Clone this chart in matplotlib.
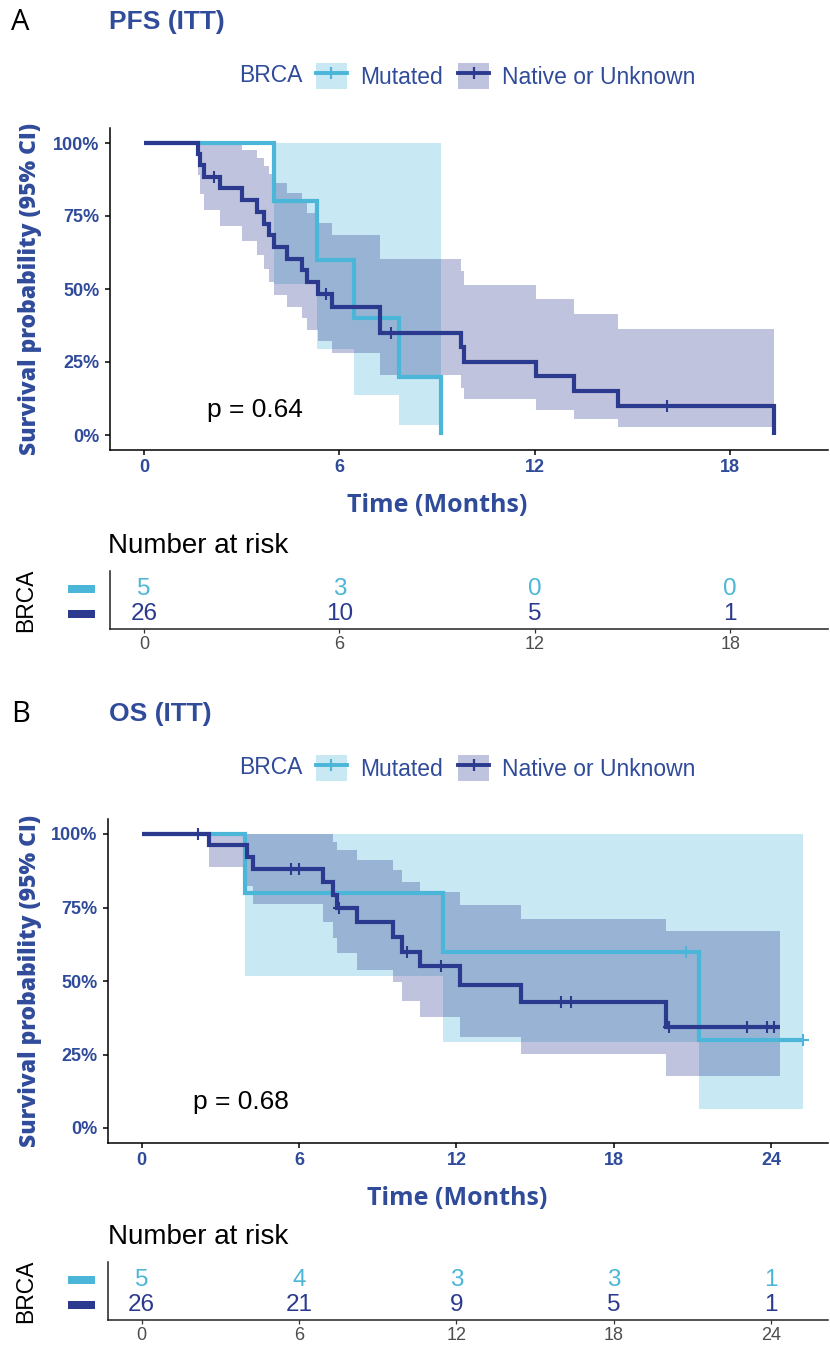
import matplotlib
matplotlib.use("Agg")
import matplotlib.pyplot as plt
from matplotlib.patches import Patch, Rectangle
from matplotlib.lines import Line2D
from matplotlib.transforms import blended_transform_factory

# ---------------- data ----------------
groups = ["Mutated", "Native or Unknown"]
line_colors = ["#4BB6D8", "#2B3A8F"]
text_navy = "#2F4B9A"

y_ticks = [0, 0.25, 0.5, 0.75, 1.0]
y_tick_labels = ["0%", "25%", "50%", "75%", "100%"]

# PFS (ITT)
pfs_mut_time = [0, 3.98, 5.31, 6.44, 7.83, 9.11]
pfs_mut_surv = [1.0, 0.8, 0.6, 0.4, 0.2, 0.0]
pfs_mut_lower = [1.0, 0.516, 0.293, 0.137, 0.035, 0.0]
pfs_mut_upper = [1.0, 1.0, 1.0, 1.0, 1.0, 0.0]
pfs_mut_cens_time = []
pfs_mut_cens_surv = []

pfs_nat_time = [0, 1.65, 1.72, 1.85, 2.34, 3.0, 3.47, 3.67, 3.83, 3.98, 4.39,
                4.85, 5.0, 5.35, 5.77, 7.26, 9.72, 9.83, 12.03, 13.2, 14.55, 19.35]
pfs_nat_surv = [1.0, 0.962, 0.923, 0.885, 0.845, 0.805, 0.765, 0.724, 0.684, 0.644, 0.604,
                0.564, 0.523, 0.483, 0.439, 0.351, 0.302, 0.251, 0.201, 0.151, 0.100, 0.0]
pfs_nat_lower = [1.0, 0.890, 0.826, 0.770, 0.716, 0.664, 0.616, 0.569, 0.524, 0.481, 0.440,
                 0.399, 0.360, 0.322, 0.281, 0.204, 0.162, 0.123, 0.087, 0.055, 0.028, 0.0]
pfs_nat_upper = [1.0, 1.0, 1.0, 1.0, 1.0, 0.975, 0.950, 0.921, 0.893, 0.862, 0.830,
                 0.796, 0.760, 0.725, 0.686, 0.604, 0.563, 0.515, 0.465, 0.415, 0.364, 0.0]
pfs_nat_cens_time = [2.16, 5.6, 7.57, 16.06]
pfs_nat_cens_surv = [0.885, 0.483, 0.351, 0.100]

pfs_risk_time = [0, 6, 12, 18]
pfs_risk_mut = [5, 3, 0, 0]
pfs_risk_nat = [26, 10, 5, 1]
pfs_xticks = [0, 6, 12, 18]
pfs_pval = "p = 0.64"

# OS (ITT)
os_mut_time = [0, 3.95, 11.5, 21.26, 25.2]
os_mut_surv = [1.0, 0.8, 0.6, 0.3, 0.3]
os_mut_lower = [1.0, 0.516, 0.293, 0.065, 0.065]
os_mut_upper = [1.0, 1.0, 1.0, 1.0, 1.0]
os_mut_cens_time = [20.76, 25.2]
os_mut_cens_surv = [0.6, 0.3]

os_nat_time = [0, 2.58, 4.0, 4.26, 6.93, 7.3, 7.45, 8.2, 9.6, 9.92, 10.6, 12.13, 14.47, 20.0, 24.35]
os_nat_surv = [1.0, 0.962, 0.923, 0.880, 0.838, 0.793, 0.750, 0.700, 0.650, 0.600, 0.550,
               0.487, 0.427, 0.343, 0.343]
os_nat_lower = [1.0, 0.889, 0.822, 0.761, 0.700, 0.645, 0.594, 0.537, 0.495, 0.431, 0.376,
                0.310, 0.253, 0.176, 0.176]
os_nat_upper = [1.0, 1.0, 1.0, 1.0, 1.0, 0.972, 0.947, 0.913, 0.876, 0.836, 0.802,
                0.757, 0.712, 0.670, 0.670]
os_nat_cens_time = [2.16, 5.69, 6.0, 7.54, 10.1, 11.4, 16.0, 16.38, 20.1, 23.1, 23.85, 24.1]
os_nat_cens_surv = [1.0, 0.880, 0.880, 0.750, 0.600, 0.550, 0.427, 0.427, 0.343, 0.343, 0.343, 0.343]

os_risk_time = [0, 6, 12, 18, 24]
os_risk_mut = [5, 4, 3, 3, 1]
os_risk_nat = [26, 21, 9, 5, 1]
os_xticks = [0, 6, 12, 18, 24]
os_pval = "p = 0.68"

# ---------------- layout helpers ----------------
W, H = 830, 1349
fig = plt.figure(figsize=(W / 100, H / 100), dpi=100)
fig.patch.set_facecolor("white")

SANS = "Liberation Sans"
LABEL = "Open Sans"


def fx(x):
    return x / W


def fy(y):
    return 1 - y / H


def rect(x0, y0, x1, y1):
    return [fx(x0), fy(y1), (x1 - x0) / W, (y1 - y0) / H]


def panel(letter, title, top, main_box, xlim, xticks, curves, pval, pval_xy,
          xlabel_x, risk_box, risk_time, risk_rows):
    # letter & title
    fig.text(fx(11), fy(top), letter, fontsize=21, family=LABEL, color="black",
             ha="left", va="center")
    fig.text(fx(109), fy(top), title, fontsize=19, family=SANS, weight="bold",
             color=text_navy, ha="left", va="center")

    # legend
    ly = top + 54
    fig.text(fx(239), fy(ly), "BRCA", fontsize=16.5, family=SANS, color=text_navy,
             ha="left", va="center")
    handles = []
    for c in line_colors:
        handles.append((Patch(facecolor=c, alpha=0.3, edgecolor="none"),
                        Line2D([], [], color=c, lw=2.8, marker="+", markersize=9,
                               markeredgewidth=1.6)))
    fig.legend(handles, groups, loc="center left", bbox_to_anchor=(fx(316), fy(ly)),
               frameon=False, ncol=2, numpoints=1, borderpad=0, borderaxespad=0,
               handlelength=1.35, handleheight=1.35, handletextpad=0.57,
               columnspacing=0.67, prop={"family": SANS, "size": 16.5},
               labelcolor=text_navy)

    # main axes
    ax = fig.add_axes(rect(*main_box))
    ax.set_xlim(*xlim)
    ax.set_ylim(-0.05, 1.05)
    for (t, s, lo, hi, ct, cs), c in zip(curves, line_colors):
        ax.fill_between(t, lo, hi, step="post", color=c, alpha=0.3, linewidth=0)
    for (t, s, lo, hi, ct, cs), c in zip(curves, line_colors):
        ax.step(t, s, where="post", color=c, lw=3.0, solid_joinstyle="miter",
                solid_capstyle="butt")
        ax.plot(ct, cs, linestyle="none", marker="+", markersize=8, markeredgewidth=1.5,
                color=c)
    ax.text(pval_xy[0], pval_xy[1], pval, fontsize=19, family=SANS, color="black",
            ha="left", va="center")
    ax.set_xticks(xticks)
    ax.set_yticks(y_ticks)
    ax.set_yticklabels(y_tick_labels)
    for sp in ["top", "right"]:
        ax.spines[sp].set_visible(False)
    for sp in ["left", "bottom"]:
        ax.spines[sp].set_linewidth(1.1)
        ax.spines[sp].set_color("black")
    ax.tick_params(axis="both", length=3.6, width=1.1, color="black",
                   labelcolor=text_navy, labelsize=13)
    ax.tick_params(axis="x", pad=3.0)
    ax.tick_params(axis="y", pad=4.0)
    for lab in ax.get_xticklabels() + ax.get_yticklabels():
        lab.set_fontfamily(SANS)
        lab.set_fontweight("bold")
    x0, y0, x1, y1 = main_box
    ax.set_xlabel("Time (Months)", fontsize=18, family=LABEL, weight="bold",
                  color=text_navy, va="center", ha="center")
    ax.xaxis.set_label_coords((xlabel_x - x0) / (x1 - x0), (y1 - (y1 + 56)) / (y1 - y0))
    ax.set_ylabel("Survival probability (95% CI)", fontsize=16.5, family=LABEL,
                  weight="heavy", color=text_navy, va="center", ha="center")
    ax.yaxis.set_label_coords((30 - x0) / (x1 - x0), 0.5)

    # risk table
    rx0, ry0, rx1, ry1 = risk_box
    fig.text(fx(108), fy(ry0 - 25), "Number at risk", fontsize=20, family=SANS,
             color="black", ha="left", va="center")
    rax = fig.add_axes(rect(*risk_box))
    rax.set_xlim(*xlim)
    rax.set_ylim(0.4, 2.72)
    for counts, row, c in zip(risk_rows, [2, 1], line_colors):
        for t, n in zip(risk_time, counts):
            rax.text(t, row, str(n), fontsize=17.5, family=SANS, color=c,
                     ha="center", va="center")
        tr = blended_transform_factory(fig.transFigure, rax.transData)
        rax.add_patch(Rectangle((fx(68), row - 0.16), fx(95) - fx(68), 0.32,
                                transform=tr, facecolor=c, edgecolor="none",
                                clip_on=False))
    rax.set_xticks(risk_time)
    rax.set_yticks([])
    for sp in ["top", "right"]:
        rax.spines[sp].set_visible(False)
    for sp in ["left", "bottom"]:
        rax.spines[sp].set_linewidth(1.1)
        rax.spines[sp].set_color("#222222")
    rax.tick_params(axis="x", length=3, width=0.9, color="#333333",
                    labelcolor="#4D4D4D", labelsize=13, pad=2)
    for lab in rax.get_xticklabels():
        lab.set_fontfamily(SANS)
    fig.text(fx(26), fy((ry0 + ry1) / 2), "BRCA", fontsize=16.5, family=SANS,
             color="black", rotation=90, ha="center", va="center")
    return ax, rax


pfs_curves = [
    (pfs_mut_time, pfs_mut_surv, pfs_mut_lower, pfs_mut_upper, pfs_mut_cens_time, pfs_mut_cens_surv),
    (pfs_nat_time, pfs_nat_surv, pfs_nat_lower, pfs_nat_upper, pfs_nat_cens_time, pfs_nat_cens_surv),
]
os_curves = [
    (os_mut_time, os_mut_surv, os_mut_lower, os_mut_upper, os_mut_cens_time, os_mut_cens_surv),
    (os_nat_time, os_nat_surv, os_nat_lower, os_nat_upper, os_nat_cens_time, os_nat_cens_surv),
]

panel("A", "PFS (ITT)", 22, (110, 128.4, 828, 449.6), (-1.044, 21.0), pfs_xticks,
      pfs_curves, pfs_pval, (1.93, 0.086), 437, (110, 571, 828, 629),
      pfs_risk_time, [pfs_risk_mut, pfs_risk_nat])

panel("B", "OS (ITT)", 714, (108, 819.3, 828, 1142.7), (-1.285, 26.17), os_xticks,
      os_curves, os_pval, (1.95, 0.088), 457, (108, 1262, 828, 1320),
      os_risk_time, [os_risk_mut, os_risk_nat])

fig.savefig("out.png", dpi=100, facecolor="white")
